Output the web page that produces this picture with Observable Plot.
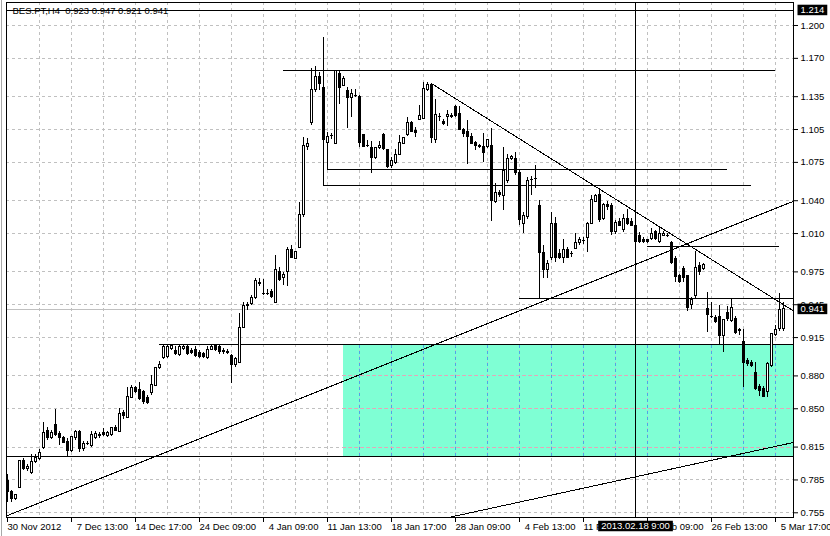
<!DOCTYPE html>
<html><head><meta charset="utf-8">
<script src="https://cdn.jsdelivr.net/npm/d3@7"></script>
<script src="https://cdn.jsdelivr.net/npm/@observablehq/plot@0.6"></script>
<style>
html,body{margin:0;padding:0;background:#fff;}
#wrap{position:relative;width:830px;height:536px;overflow:hidden;background:#fff;}
#edge{position:absolute;left:1px;top:0;width:1px;height:536px;background:#a8a8a8;}
svg{display:block;}
</style></head>
<body><div id="wrap"><div id="chart"></div><div id="edge"></div></div>
<script>
// ---- data (BES.PT, H4 bars) ----
const symbol = "BES.PT,H4";
const open = [
.784,.774,.768,.778,.802,.795,.791,.801,.804,.814,
.830,.823,.835,.827,.823,.820,.811,.823,.829,.813,
.818,.816,.823,.826,.828,.825,.826,.832,.829,.846,
.842,.860,.869,.867,.865,.860,.864,.871,.887,.896,
.897,.905,.903,.899,.905,.906,.903,.904,.901,.900,
.896,.904,.907,.906,.903,.902,.898,.890,.892,.924,
.944,.946,.951,.964,.955,.955,.957,.947,.975,.969,
.975,.995,.987,.997,1.027,1.089,1.111,1.141,1.153,1.143,
1.093,1.099,1.092,1.156,1.145,1.140,1.134,1.136,1.135,1.100,
1.090,1.088,1.079,1.088,1.100,1.086,1.072,1.074,1.082,1.092,
1.100,1.111,1.104,1.114,1.115,1.141,1.146,1.095,1.116,1.112,
1.116,1.116,1.126,1.119,1.105,1.103,1.098,1.093,1.090,1.089,
1.089,1.090,1.039,1.047,1.044,1.058,1.078,1.078,1.065,1.019,
1.025,1.059,1.060,1.035,.992,.977,.988,1.019,.991,.988,
.995,.991,.996,1.001,1.003,1.006,1.019,1.039,1.045,1.023,
1.036,1.035,1.011,1.021,1.013,1.023,1.021,1.017,1.008,1.004,
1.004,1.005,1.011,1.002,1.008,1.008,1.001,.987,.971,.978,
.971,.945,.953,.980,.978,.941,.934,.933,.934,.916,
.937,.930,.932,.922,.911,.894,.892,.883,.870,.868,
.865,.889,.917,.923,.923];
const high = [
.790,.775,.772,.803,.805,.799,.808,.808,.813,.837,
.833,.830,.849,.829,.825,.823,.825,.830,.830,.820,
.820,.829,.829,.828,.832,.829,.833,.835,.850,.848,
.869,.871,.870,.874,.867,.862,.880,.888,.893,.909,
.909,.908,.907,.908,.908,.908,.905,.907,.903,.901,
.907,.908,.908,.908,.905,.904,.900,.897,.937,.947,
.947,.953,.969,.969,.968,.959,.959,.990,.979,.974,
.997,.999,.994,1.038,1.098,1.097,1.161,1.163,1.157,1.189,
1.102,1.101,1.159,1.158,1.153,1.143,1.142,1.142,1.136,1.100,
1.095,1.094,1.088,1.094,1.101,1.087,1.079,1.087,1.100,1.098,
1.116,1.112,1.107,1.127,1.148,1.148,1.147,1.132,1.120,1.114,
1.122,1.120,1.127,1.126,1.106,1.113,1.101,1.094,1.091,1.101,
1.096,1.106,1.056,1.049,1.089,1.082,1.081,1.084,1.068,1.029,
1.061,1.062,1.072,1.040,.999,.985,1.029,1.025,.995,1.005,
.997,.994,1.010,1.006,1.006,1.020,1.045,1.046,1.051,1.037,
1.039,1.037,1.022,1.024,1.027,1.032,1.024,1.020,1.011,1.006,
1.005,1.015,1.013,1.016,1.012,1.010,1.003,.989,.973,.980,
.972,.952,.994,.984,.983,.956,.947,.935,.944,.931,
.943,.950,.934,.923,.922,.896,.894,.892,.872,.870,
.892,.918,.926,.955,.947];
const low = [
.764,.764,.766,.777,.794,.793,.790,.800,.803,.813,
.821,.822,.825,.816,.818,.806,.810,.821,.810,.811,
.816,.815,.822,.823,.825,.824,.825,.829,.828,.840,
.841,.859,.864,.858,.854,.854,.862,.870,.886,.895,
.896,.903,.899,.898,.903,.899,.900,.897,.896,.896,
.895,.903,.902,.900,.900,.900,.873,.888,.891,.923,
.940,.944,.950,.962,.953,.953,.951,.946,.966,.963,
.962,.987,.986,.996,1.025,1.086,1.109,1.139,1.141,1.054,
1.0685,1.096,1.091,1.128,1.144,1.106,1.116,1.134,1.089,1.089,
1.089,1.065,1.078,1.087,1.086,1.069,1.069,1.073,1.081,1.091,
1.099,1.102,1.098,1.113,1.114,1.140,1.092,1.092,1.112,1.109,
1.108,1.115,1.116,1.105,1.098,1.073,1.092,1.086,1.088,1.075,
1.088,1.021,1.037,1.043,1.031,1.056,1.077,1.063,1.017,1.010,
1.023,1.045,1.051,.951,.969,.969,.985,.984,.986,.983,
.987,.988,.995,.999,1.000,.993,1.018,1.038,1.020,1.022,
1.031,1.008,1.009,1.016,1.011,1.017,1.016,1.001,1.001,1.001,
1.001,1.004,1.004,1.001,1.007,1.006,.982,.965,.964,.965,
.939,.941,.951,.972,.976,.920,.932,.928,.908,.901,
.930,.929,.918,.917,.869,.889,.888,.867,.861,.860,
.860,.888,.916,.921,.921];
const close = [
.774,.768,.771,.802,.795,.797,.801,.805,.810,.828,
.823,.828,.826,.823,.819,.811,.824,.829,.813,.818,
.818,.826,.827,.825,.826,.828,.832,.830,.845,.843,
.861,.869,.865,.859,.856,.855,.872,.887,.890,.906,
.906,.907,.900,.906,.906,.900,.901,.898,.897,.897,
.904,.906,.904,.902,.902,.901,.890,.895,.924,.944,
.945,.951,.967,.965,.955,.955,.952,.977,.968,.972,
.995,.988,.993,1.027,1.090,1.092,1.141,1.153,1.147,1.095,
1.098,1.099,1.158,1.143,1.151,1.134,1.137,1.136,1.093,1.089,
1.090,1.079,1.088,1.090,1.087,1.071,1.076,1.082,1.093,1.097,
1.111,1.103,1.102,1.117,1.142,1.146,1.097,1.118,1.116,1.110,
1.118,1.117,1.117,1.105,1.101,1.098,1.092,1.090,1.089,1.084,
1.095,1.040,1.047,1.045,1.067,1.078,1.080,1.065,1.022,1.026,
1.058,1.059,1.060,.992,.977,.982,1.019,.988,.988,.995,
.988,.991,1.001,1.004,1.003,1.019,1.041,1.044,1.022,1.036,
1.034,1.011,1.020,1.017,1.023,1.019,1.017,1.002,1.002,1.002,
1.002,1.010,1.005,1.010,1.010,1.008,.983,.970,.966,.969,
.942,.949,.979,.975,.981,.936,.934,.929,.916,.931,
.932,.942,.919,.921,.892,.891,.889,.868,.866,.861,
.891,.918,.922,.940,.941];

const priceTicks = [1.200, 1.170, 1.135, 1.105, 1.075, 1.040, 1.010, 0.975, 0.945, 0.915, 0.880, 0.850, 0.815, 0.785, 0.755];
const dateTickIdx = [0, 16, 32, 48, 64, 80, 96, 112, 128, 144, 160, 176, 192];
const dateLabels = ["30 Nov 2012", "\u20077 Dec 13:00", "14 Dec 17:00", "24 Dec 09:00", "\u20074 Jan 09:00", "11 Jan 13:00", "18 Jan 17:00", "28 Jan 09:00", "\u20074 Feb 13:00", "11 Feb 17:00", "19 Feb 09:00", "26 Feb 13:00", "\u20075 Mar 17:00"];
const gridIdx = [8, 16, 24, 32, 40, 48, 56, 64, 72, 80, 88, 96, 104, 112, 120, 128, 136, 144, 152, 160, 168, 176, 184, 192];

// drawn objects
const hLinePrice = [1.1585, 1.0685, 1.054, 0.998, 0.9505, 0.9083];
const hLineFrom  = [69, 80, 79, 160, 128, 38];
const hLineTo    = [192, 180, 186, 193, null, null];
const fullLinePrice = [1.214, 0.8062];
const zoneFrom = 84, zoneLow = 0.8062, zoneHigh = 0.9083;
const trendFromIdx = [-0.25, 106, 110.25];
const trendFromPrice = [0.7521, 1.147, 0.7507];
const trendToIdx = [196.5, 196.5, 196.5];
const trendToPrice = [1.0395, 0.9393, 0.8192];
const vLineIdx = 157, vLineLabel = "2013.02.18 9:00";
const bid = 0.941;

// ---- build ----
const X0 = -0.25, X1 = 196.5, Y0 = 0.7507, Y1 = 1.2210;
const bars = open.map((o, i) => ({i, o, h: high[i], l: low[i], c: close[i]}));
const hLines = hLinePrice.map((p, k) => ({p, from: hLineFrom[k], to: hLineTo[k] ?? X1}));
const trends = trendFromIdx.map((x1, k) => ({x1, y1: trendFromPrice[k], x2: trendToIdx[k], y2: trendToPrice[k]}));
const last = bars[bars.length - 1];
const header = symbol + "\u00a0\u00a0" + [last.o, last.h, last.l, last.c].map(v => v.toFixed(3)).join(" ");
const crisp = {shapeRendering: "crispEdges"};
const font = "'Liberation Sans', Arial, sans-serif";
const FS = 9.5;

const chart = Plot.plot({
  width: 830, height: 536,
  marginLeft: 6, marginRight: 37, marginTop: 2, marginBottom: 19,
  style: {background: "white", fontFamily: font, fontSize: FS + "px", color: "black", overflow: "visible"},
  x: {type: "linear", domain: [X0, X1]},
  y: {type: "linear", domain: [Y0, Y1]},
  marks: [
    Plot.rect([0], {x1: () => zoneFrom, x2: () => X1, y1: () => zoneLow, y2: () => zoneHigh, fill: "#7fffd4", ...crisp}),
    Plot.ruleX(gridIdx, {x: d => d, stroke: "#c0c0c0", strokeDasharray: "3,3", ...crisp}),
    Plot.ruleY(priceTicks, {y: d => d, stroke: "#c0c0c0", strokeDasharray: "3,3", ...crisp}),
    Plot.ruleX(gridIdx.filter(g => g > zoneFrom), {x: d => d, y1: () => zoneLow, y2: () => zoneHigh, stroke: "#4ea6e6", strokeDasharray: "3,3", ...crisp}),
    Plot.ruleY(priceTicks.filter(p => p > zoneLow && p < zoneHigh), {y: d => d, x1: () => zoneFrom, x2: () => X1, stroke: "#e8a4b8", strokeDasharray: "3,3", ...crisp}),
    Plot.ruleY([bid], {y: d => d, stroke: "#c0c0c0", ...crisp}),
    Plot.ruleY(fullLinePrice, {y: d => d, stroke: "black", ...crisp}),
    Plot.ruleY(hLines, {y: "p", x1: "from", x2: "to", stroke: "black", ...crisp}),
    Plot.link(trends, {x1: "x1", y1: "y1", x2: "x2", y2: "y2", stroke: "black", clip: true, ...crisp}),
    Plot.ruleX([vLineIdx], {x: d => d, stroke: "black", ...crisp}),
    Plot.ruleX(bars, {x: "i", y1: "l", y2: "h", stroke: "black", ...crisp}),
    Plot.rect(bars, {x1: d => d.i - 0.25, x2: d => d.i + 0.5, y1: "o", y2: "c", fill: "black", insetTop: -0.5, insetBottom: -0.5, ...crisp}),
    Plot.rect(bars.filter(d => d.c > d.o), {x1: d => d.i - 0.25, x2: d => d.i + 0.5, y1: "o", y2: "c", fill: "white", insetLeft: 1, insetRight: 1, insetTop: 0.5, insetBottom: 0.5, ...crisp}),
    Plot.frame({stroke: "black", ...crisp}),
    Plot.axisY(priceTicks, {anchor: "right", tickSize: 4, tickPadding: 3, tickFormat: d => d.toFixed(3), stroke: "black", fill: "black", fontSize: FS}),
    Plot.axisX(dateTickIdx, {anchor: "bottom", tickSize: 5, tickPadding: 1, tickFormat: d => dateLabels[dateTickIdx.indexOf(d)], textAnchor: "start", dx: 0, fill: "black", fontSize: FS}),
    Plot.text([header], {text: d => d, frameAnchor: "top-left", textAnchor: "start", lineAnchor: "top", dx: 6, dy: 5, fill: "black", fontSize: FS}),
    Plot.text([fullLinePrice[0], bid], {y: d => d, text: d => d.toFixed(3), frameAnchor: "right", textAnchor: "start", dx: 7, fill: "white", fontSize: FS}),
    Plot.text([vLineIdx], {x: d => d, text: () => vLineLabel, frameAnchor: "bottom", lineAnchor: "top", dy: 5, fill: "white", fontSize: FS})
  ]
});
document.getElementById("chart").append(chart);
// black label boxes behind the white texts
chart.querySelectorAll('g[fill="white"] text').forEach(function(t) {
  const bb = t.getBBox();
  const r = document.createElementNS("http://www.w3.org/2000/svg", "rect");
  r.setAttribute("x", bb.x - 3);
  r.setAttribute("y", bb.y + 0.5);
  r.setAttribute("width", bb.width + 6);
  r.setAttribute("height", bb.height - 0.5);
  r.setAttribute("fill", "black");
  const tr = t.getAttribute("transform");
  if (tr) r.setAttribute("transform", tr);
  t.parentNode.insertBefore(r, t);
});
</script></body></html>
